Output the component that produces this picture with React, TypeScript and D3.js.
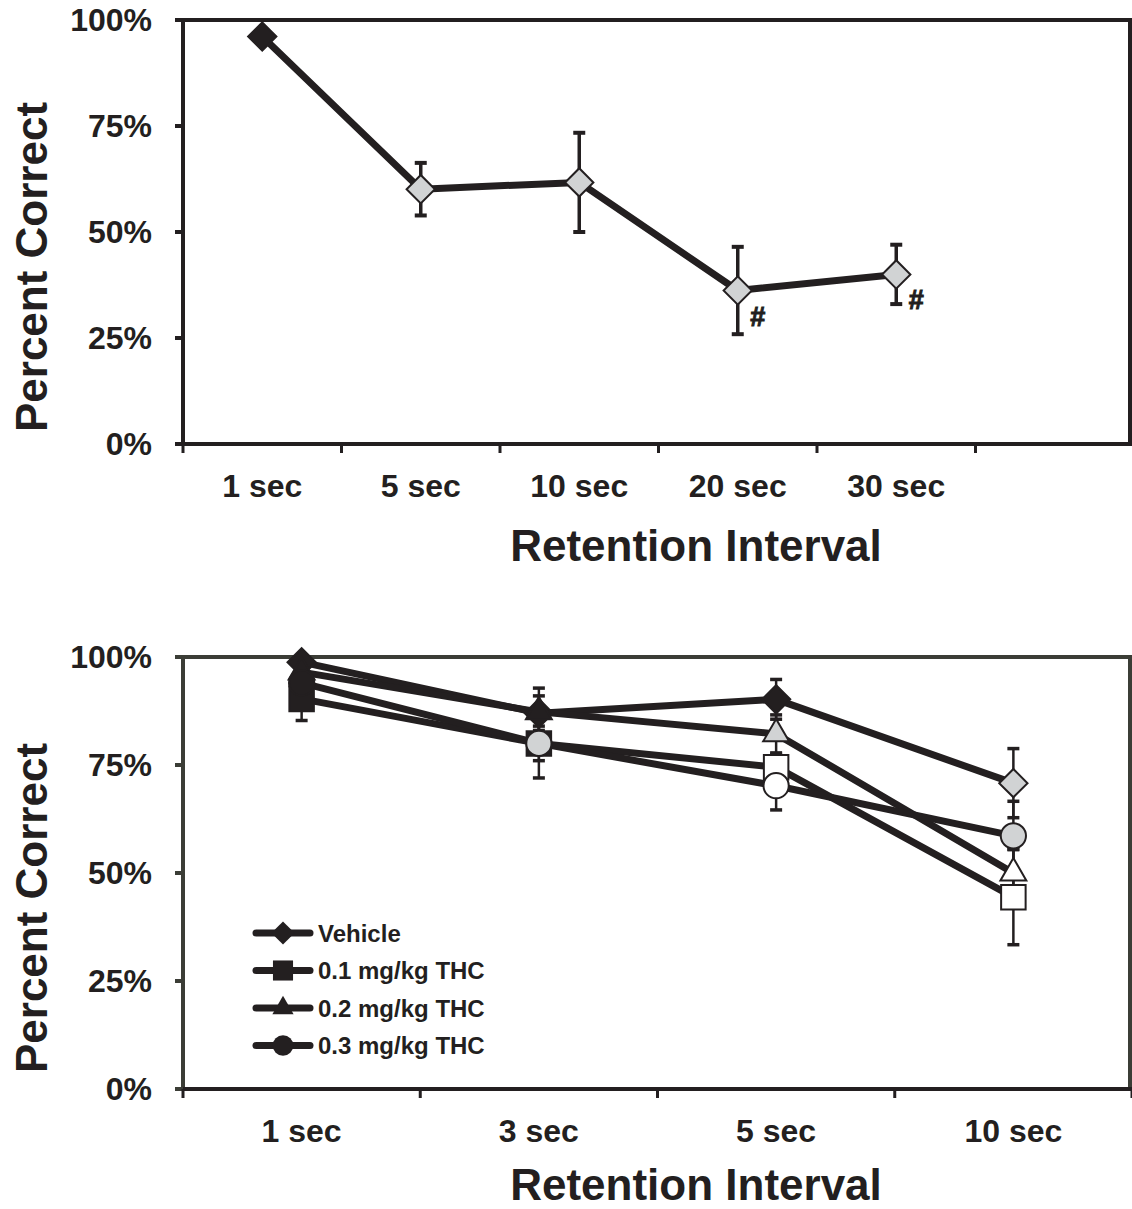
import React from 'react'
import * as d3 from 'd3'

// top panel: delay curve
const topCats = ['1 sec', '5 sec', '10 sec', '20 sec', '30 sec']
const topMean = [96.1, 60.1, 61.7, 36.2, 40.0]
const topSem = [1.5, 6.2, 11.7, 10.3, 7.0]
const topSig = [0, 1, 1, 1, 1] // 0 black, 1 gray, 2 white
const topHash = [false, false, false, true, true]

// bottom panel: THC doses
const botCats = ['1 sec', '3 sec', '5 sec', '10 sec']
const vehicleMean = [98.8, 87.0, 90.2, 70.8]
const vehicleSem = [1.0, 4.0, 4.6, 8.0]
const vehicleSig = [0, 0, 0, 1]
const thc01Mean = [90.3, 80.0, 74.5, 44.4]
const thc01Sem = [5.0, 8.0, 3.0, 11.0]
const thc01Sig = [0, 0, 2, 2]
const thc02Mean = [96.5, 87.3, 82.2, 50.0]
const thc02Sem = [2.0, 5.5, 4.4, 5.5]
const thc02Sig = [0, 0, 1, 2]
const thc03Mean = [94.0, 80.0, 70.2, 58.6]
const thc03Sem = [2.0, 4.0, 5.6, 8.0]
const thc03Sig = [0, 1, 2, 1]

const yTicks = [0, 25, 50, 75, 100]

const INK = '#231f20'
const FONT = '"Liberation Sans", Arial, Helvetica, sans-serif'
const fills = ['#231f20', '#d1d3d4', '#ffffff']

const shapes: Record<string, { type: d3.SymbolType; size: number; rot: number }> = {
  diamond: { type: d3.symbolSquare, size: 400, rot: 45 },
  square: { type: d3.symbolSquare, size: 600, rot: 0 },
  triangle: { type: d3.symbolTriangle, size: 290, rot: 0 },
  circle: { type: d3.symbolCircle, size: 500, rot: 0 },
}

function Marker({ shape, x, y, fill, sw = 2 }) {
  const s = shapes[shape]
  const d = d3.symbol().type(s.type).size(s.size)()
  return (
    <path
      d={d}
      transform={`translate(${x},${y}) rotate(${s.rot})`}
      fill={fill}
      stroke={INK}
      strokeWidth={sw}
      strokeLinejoin="miter"
    />
  )
}

function Frame({ x, y, frameColor, labels, titleDy }) {
  const [x0, x1] = x.range()
  const [yb, yt] = y.range()
  const edges = [...x.domain().map(d => x(d)), x1]
  return (
    <g>
      {/* box */}
      <line x1={x0} x2={x0} y1={yt} y2={yb} stroke={frameColor} strokeWidth={4} />
      <line x1={x0 - 8} x2={1132} y1={yt} y2={yt} stroke={frameColor} strokeWidth={4} />
      <line x1={1130} x2={1130} y1={yt} y2={yb} stroke={frameColor} strokeWidth={4} />
      <line x1={x0 - 8} x2={1132} y1={yb} y2={yb} stroke={INK} strokeWidth={4} />
      {yTicks.map(t => (
        <g key={t}>
          <line x1={x0 - 8} x2={x0} y1={y(t)} y2={y(t)} stroke={frameColor} strokeWidth={4} />
          <text x={152} y={y(t) + 11} textAnchor="end" fontSize={32} fontWeight="bold" fill={INK}>
            {t}%
          </text>
        </g>
      ))}
      {edges.map((e, i) => (
        <line key={i} x1={e} x2={e} y1={yb} y2={yb + 9} stroke={INK} strokeWidth={3} />
      ))}
      {labels.map(c => (
        <text
          key={c}
          x={x(c) + x.bandwidth() / 2}
          y={yb + 53}
          textAnchor="middle"
          fontSize={32}
          fontWeight="bold"
          fill={INK}
        >
          {c}
        </text>
      ))}
      <text x={696} y={yb + titleDy} textAnchor="middle" fontSize={44} fontWeight="bold" fill={INK}>
        Retention Interval
      </text>
      <text
        transform={`translate(47,${(yt + yb) / 2 + 35}) rotate(-90)`}
        textAnchor="middle"
        fontSize={44}
        fontWeight="bold"
        fill={INK}
      >
        Percent Correct
      </text>
    </g>
  )
}

function ErrBar({ x, lo, hi, w, capW }) {
  return (
    <g stroke={INK}>
      <line x1={x} x2={x} y1={lo} y2={hi} strokeWidth={w} />
      <line x1={x - 6} x2={x + 6} y1={lo} y2={lo} strokeWidth={capW} />
      <line x1={x - 6} x2={x + 6} y1={hi} y2={hi} strokeWidth={capW} />
    </g>
  )
}

function TopPanel() {
  const x = d3.scaleBand().domain([...topCats, '']).range([183, 1134]).padding(0)
  const y = d3.scaleLinear().domain([0, 100]).range([444, 20])
  const cx = (c: string) => x(c) + x.bandwidth() / 2
  const line = d3
    .line<number>()
    .x((_, i) => cx(topCats[i]))
    .y(d => y(d))
  return (
    <g>
      <Frame x={x} y={y} frameColor={INK} labels={topCats} titleDy={117} />
      <path d={line(topMean)} fill="none" stroke={INK} strokeWidth={7} strokeLinejoin="round" />
      {topMean.map((m, i) => (
        <ErrBar key={i} x={cx(topCats[i])} lo={y(m - topSem[i])} hi={y(m + topSem[i])} w={3.5} capW={4} />
      ))}
      {topMean.map((m, i) => (
        <Marker key={i} shape="diamond" x={cx(topCats[i])} y={y(m)} fill={fills[topSig[i]]} />
      ))}
      {topMean.map((m, i) =>
        topHash[i] ? (
          <text
            key={i}
            x={cx(topCats[i]) + 20}
            y={y(m) + 35}
            textAnchor="middle"
            fontSize={27}
            fontWeight="bold"
            fill={INK}
            stroke={INK}
            strokeWidth={1}
          >
            #
          </text>
        ) : null
      )}
    </g>
  )
}

const series = [
  { name: 'Vehicle', shape: 'diamond', mean: vehicleMean, sem: vehicleSem, sig: vehicleSig },
  { name: '0.1 mg/kg THC', shape: 'square', mean: thc01Mean, sem: thc01Sem, sig: thc01Sig },
  { name: '0.2 mg/kg THC', shape: 'triangle', mean: thc02Mean, sem: thc02Sem, sig: thc02Sig },
  { name: '0.3 mg/kg THC', shape: 'circle', mean: thc03Mean, sem: thc03Sem, sig: thc03Sig },
]

function BottomPanel() {
  const x = d3.scaleBand().domain(botCats).range([183, 1132]).padding(0)
  const y = d3.scaleLinear().domain([0, 100]).range([1089, 657])
  const cx = (c: string) => x(c) + x.bandwidth() / 2
  const line = d3
    .line<number>()
    .x((_, i) => cx(botCats[i]))
    .y(d => y(d))
  return (
    <g>
      <Frame x={x} y={y} frameColor="#3b3d36" labels={botCats} titleDy={111} />
      {series.map(s => (
        <path key={s.name} d={line(s.mean)} fill="none" stroke={INK} strokeWidth={7} strokeLinejoin="round" />
      ))}
      {series.map(s =>
        s.mean.map((m, i) => (
          <ErrBar key={s.name + i} x={cx(botCats[i])} lo={y(m - s.sem[i])} hi={y(m + s.sem[i])} w={2.5} capW={3.5} />
        ))
      )}
      {series.map(s =>
        s.mean.map((m, i) => (
          <Marker key={s.name + i} shape={s.shape} x={cx(botCats[i])} y={y(m)} fill={fills[s.sig[i]]} />
        ))
      )}
      {/* legend */}
      {series.map((s, i) => (
        <g key={s.name} transform={`translate(0,${933 + i * 37.5})`}>
          <line x1={256} x2={310} y1={0} y2={0} stroke={INK} strokeWidth={7} strokeLinecap="round" />
          <g transform="translate(283,0) scale(0.82)">
            <Marker shape={s.shape} x={0} y={0} fill={INK} sw={0} />
          </g>
          <text x={318} y={8.5} fontSize={24} fontWeight="bold" fill={INK}>
            {s.name}
          </text>
        </g>
      ))}
    </g>
  )
}

export default function App() {
  return (
    <svg
      width={1132}
      height={1209}
      style={{ position: 'absolute', left: 0, top: 0, background: '#fff' }}
      fontFamily={FONT}
    >
      <rect width={1132} height={1209} fill="#fff" />
      <TopPanel />
      <BottomPanel />
    </svg>
  )
}
